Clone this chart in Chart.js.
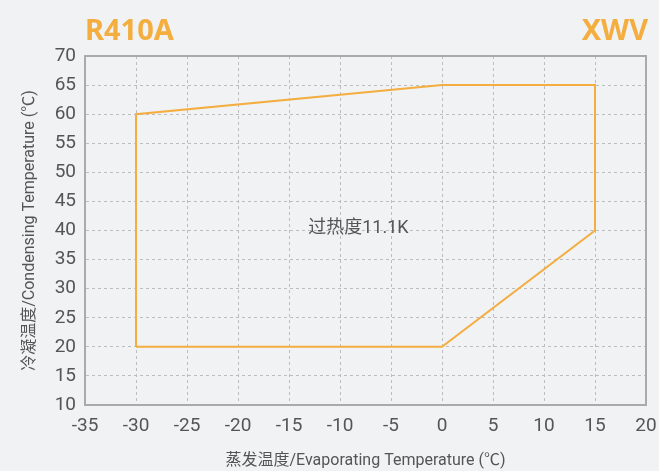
<!DOCTYPE html>
<html>
<head>
<meta charset="utf-8">
<script src="https://cdn.jsdelivr.net/npm/chart.js@4"></script>
<style>
html,body{margin:0;padding:0;background:#f1f2f4;}
#wrap{width:659px;height:471px;}
</style>
</head>
<body>
<div id="wrap"><canvas id="c" width="659" height="471"></canvas></div>
<script>
const evapTemps = [-30, -30, 0, 15, 15, 0, -30];
const condTemps = [20, 60, 65, 65, 40, 20, 20];
const xTicks = [-35, -30, -25, -20, -15, -10, -5, 0, 5, 10, 15, 20];
const yTicks = [10, 15, 20, 25, 30, 35, 40, 45, 50, 55, 60, 65, 70];
const titleLeft = "R410A";
const titleRight = "XWV";
const note = "过热度11.1K";
const notePos = [-8.2, 40.3];

const ORANGE = '#f4ad3f';
const TXT = '#555555';
const FONT = 'Roboto, "Noto Sans CJK SC", sans-serif';

const overlay = {
  id: 'overlay',
  afterDraw(chart) {
    const ctx = chart.ctx, a = chart.chartArea;
    const xs = chart.scales.x, ys = chart.scales.y;
    ctx.save();
    ctx.fillStyle = ORANGE;
    ctx.font = 'bold 29px "Noto Sans", "Open Sans", sans-serif';
    ctx.textBaseline = 'alphabetic';
    ctx.textAlign = 'left';
    ctx.fillText(titleLeft, a.left, 40);
    ctx.textAlign = 'right';
    ctx.fillText(titleRight, a.right + 2, 40);
    ctx.fillStyle = TXT;
    ctx.font = '18px ' + FONT;
    ctx.textAlign = 'center';
    ctx.textBaseline = 'middle';
    ctx.fillText(note, xs.getPixelForValue(notePos[0]), ys.getPixelForValue(notePos[1]));
    ctx.restore();
  }
};

new Chart(document.getElementById('c'), {
  type: 'scatter',
  data: {
    datasets: [{
      data: evapTemps.map((x, i) => ({x: x, y: condTemps[i]})),
      showLine: true,
      borderColor: ORANGE,
      borderWidth: 2,
      pointRadius: 0,
      fill: false,
      tension: 0
    }]
  },
  options: {
    responsive: false,
    animation: false,
    layout: {padding: {left: 0, right: 13, top: 56, bottom: 0}},
    plugins: {legend: {display: false}, tooltip: {enabled: false}},
    scales: {
      x: {
        type: 'linear', min: -35, max: 20,
        afterBuildTicks: s => { s.ticks = xTicks.map(v => ({value: v})); },
        afterFit: s => { s.height = 66; s.paddingLeft = 0; s.paddingRight = 0; },
        grid: {color: '#bdbdbd', lineWidth: 1, drawTicks: false},
        border: {display: true, color: '#aaaaaa', width: 2, dash: [3, 3]},
        ticks: {color: TXT, font: {family: FONT, size: 19}, padding: 10, maxRotation: 0},
        title: {display: true, text: '蒸发温度/Evaporating Temperature (℃)', color: TXT, font: {family: FONT, size: 16}, padding: {top: 4, bottom: 0}}
      },
      y: {
        type: 'linear', min: 10, max: 70,
        afterBuildTicks: s => { s.ticks = yTicks.map(v => ({value: v})); },
        afterFit: s => { s.width = 85; s.paddingTop = 0; s.paddingBottom = 0; },
        grid: {color: '#bdbdbd', lineWidth: 1, drawTicks: false},
        border: {display: true, color: '#aaaaaa', width: 2, dash: [3, 3]},
        ticks: {color: TXT, font: {family: FONT, size: 19}, padding: 9},
        title: {display: true, text: '冷凝温度/Condensing Temperature (℃)', color: TXT, font: {family: FONT, size: 16}, padding: {top: 20, bottom: 0}}
      }
    }
  },
  plugins: [overlay, {
    id: 'frame',
    beforeDatasetsDraw(chart) {
      const ctx = chart.ctx, a = chart.chartArea;
      ctx.save();
      ctx.setLineDash([]);
      ctx.strokeStyle = '#aaaaaa';
      ctx.lineWidth = 2;
      ctx.strokeRect(a.left, a.top, a.right - a.left, a.bottom - a.top);
      ctx.restore();
    }
  }]
});
</script>
</body>
</html>
